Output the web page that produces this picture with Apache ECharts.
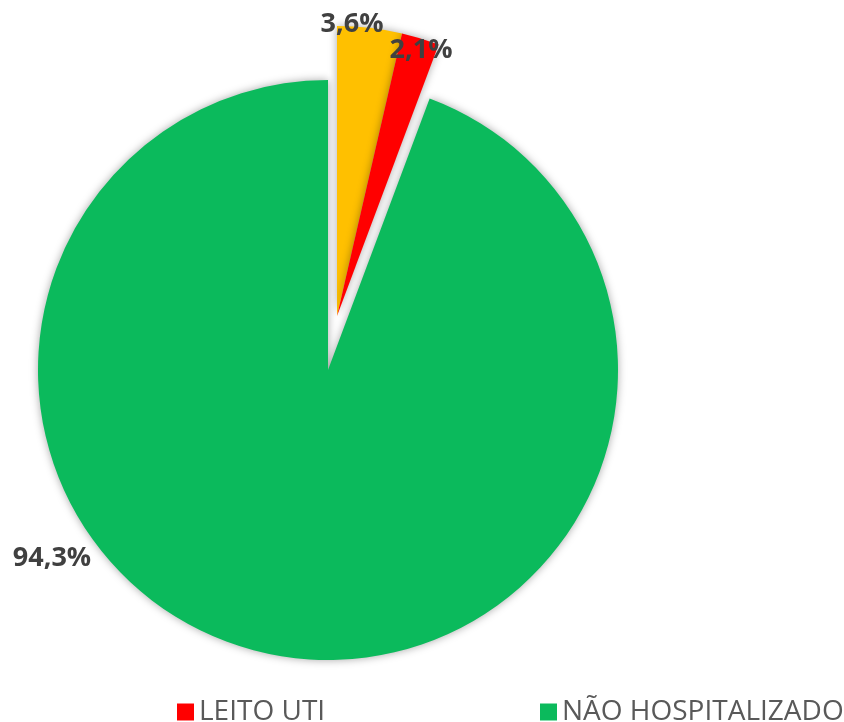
<!DOCTYPE html>
<html>
<head>
<meta charset="utf-8">
<script src="https://cdn.jsdelivr.net/npm/echarts@6/dist/echarts.min.js"></script>
<style>
    html, body { margin: 0; padding: 0; background: #fff; }
    #main { width: 844px; height: 722px; }
</style>
</head>
<body>
<div id="main"></div>
<script>
    // dados
    var categorias = ['LEITO CLÍNICO', 'LEITO UTI', 'NÃO HOSPITALIZADO'];
    var valores = [3.6, 2.1, 94.3];
    var rotulos = ['3,6%', '2,1%', '94,3%'];
    var cores = ['#FFC000', '#FF0000', '#0BBA5C'];
    // 1 = fatia desenhada na pizza deslocada (explodida)
    var grupo = [1, 1, 0];

    // posicao dos rotulos
    var posRotulos = [[352, 24], [421, 50], [52, 558]];

    var myChart = echarts.init(document.getElementById('main'));

    function montaDados(g) {
        var lista = [];
        for (var i = 0; i < categorias.length; i++) {
            var visivel = grupo[i] === g;
            lista.push({
                name: categorias[i],
                value: valores[i],
                itemStyle: visivel ? {
                    color: cores[i],
                    shadowBlur: 8,
                    shadowColor: 'rgba(0,0,0,0.35)'
                } : {color: 'rgba(0,0,0,0)'},
                label: {show: visivel}
            });
        }
        return lista;
    }

    function serie(g, centro) {
        return {
            type: 'pie',
            center: centro,
            radius: [0, 290],
            startAngle: 90,
            clockwise: true,
            avoidLabelOverlap: false,
            label: {
                position: 'outside',
                formatter: function (p) {
                    return rotulos[p.dataIndex];
                },
                color: '#404040',
                fontSize: 27,
                fontWeight: 'bold',
                fontFamily: 'Open Sans, sans-serif'
            },
            labelLine: {show: false},
            labelLayout: function (p) {
                var pos = posRotulos[p.dataIndex];
                return {x: pos[0], y: pos[1], align: 'center', verticalAlign: 'middle'};
            },
            emphasis: {disabled: true},
            data: montaDados(g)
        };
    }

    var legendaTexto = {
        color: '#595959',
        fontSize: 28,
        fontFamily: 'Open Sans, sans-serif'
    };

    option = {
        animation: false,
        legend: [
            {
                data: [{name: 'LEITO UTI', itemStyle: {color: cores[1]}}],
                left: 172, top: 693,
                icon: 'rect', itemWidth: 17, itemHeight: 17, itemGap: 5,
                selectedMode: false,
                textStyle: legendaTexto
            },
            {
                data: [{name: 'NÃO HOSPITALIZADO', itemStyle: {color: cores[2]}}],
                left: 535, top: 693,
                icon: 'rect', itemWidth: 17, itemHeight: 17, itemGap: 5,
                selectedMode: false,
                textStyle: legendaTexto
            }
        ],
        series: [
            serie(0, [328, 370]),
            serie(1, [337, 316])
        ]
    };
    myChart.setOption(option);
</script>
</body>
</html>
